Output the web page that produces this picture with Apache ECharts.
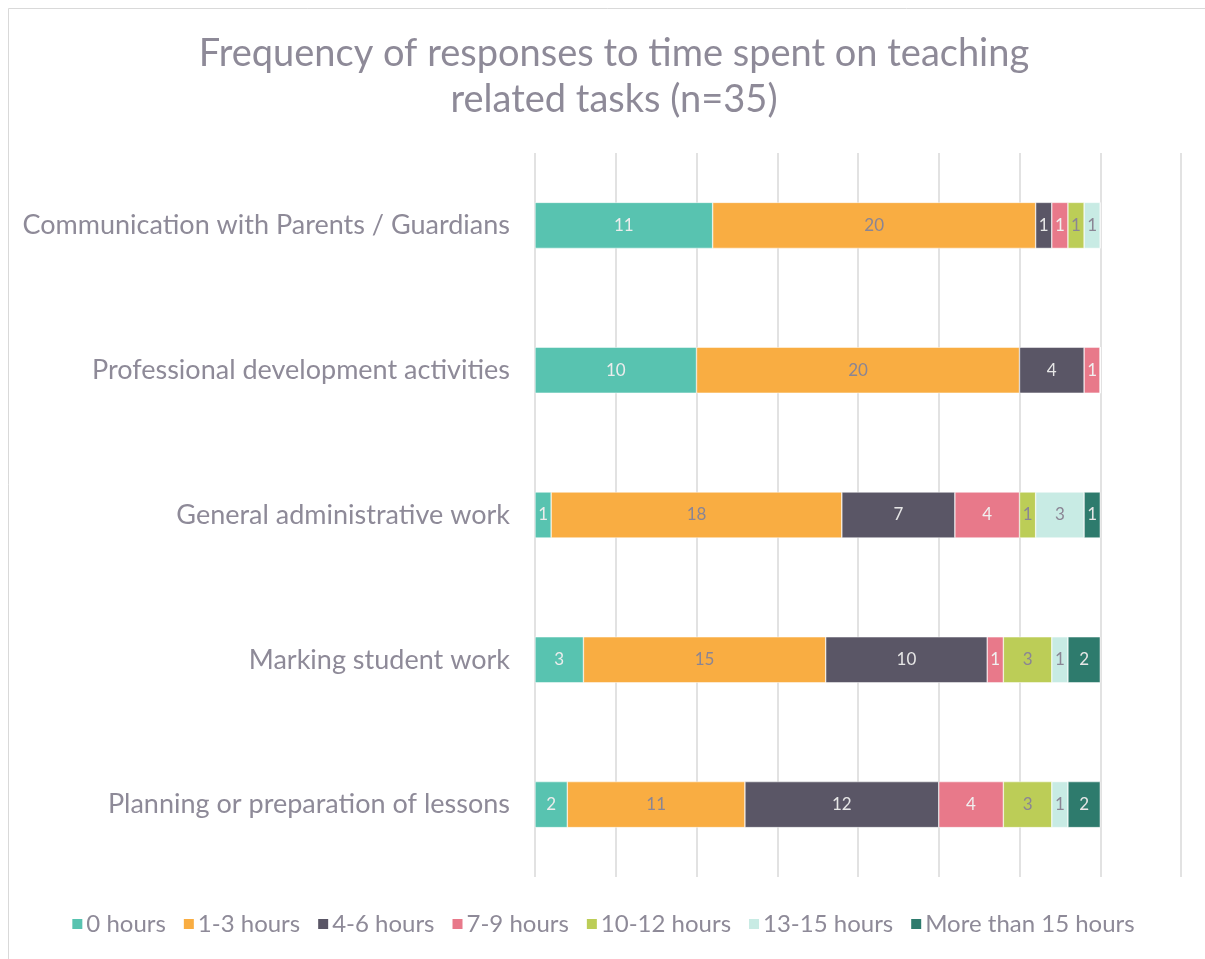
<!DOCTYPE html>
<html>
<head>
<meta charset="utf-8">
<script src="https://cdn.jsdelivr.net/npm/echarts@6/dist/echarts.min.js"></script>
<style>
  html, body { margin: 0; padding: 0; background: #fff; }
  #chart { width: 1205px; height: 959px; }
</style>
</head>
<body>
<div id="chart"></div>
<script>
var categories = [
  "Communication with Parents / Guardians",
  "Professional development activities",
  "General administrative work",
  "Marking student work",
  "Planning or preparation of lessons"
];
var seriesNames = ["0 hours", "1-3 hours", "4-6 hours", "7-9 hours", "10-12 hours", "13-15 hours", "More than 15 hours"];
var hours0 = [11, 10, 1, 3, 2];
var hours1to3 = [20, 20, 18, 15, 11];
var hours4to6 = [1, 4, 7, 10, 12];
var hours7to9 = [1, 1, 4, 1, 4];
var hours10to12 = [1, 0, 1, 3, 3];
var hours13to15 = [1, 0, 3, 1, 1];
var hoursOver15 = [0, 0, 1, 2, 2];

var allValues = [hours0, hours1to3, hours4to6, hours7to9, hours10to12, hours13to15, hoursOver15];
var colors = ["#58c3b0", "#f9ad42", "#5a5666", "#e8798a", "#bccd57", "#c8ebe4", "#2e7b6d"];
var labelColors = ["#ececec", "#8a8594", "#e6e6e6", "#f0f0f0", "#8a8594", "#8a8594", "#e6e6e6"];
var fontFamily = "Lato";
var textColor = "#8e8a98";

var chart = echarts.init(document.getElementById("chart"));

var series = [];
for (var i = 0; i < seriesNames.length; i++) {
  series.push({
    name: seriesNames[i],
    type: "bar",
    stack: "total",
    barWidth: 46,
    data: allValues[i],
    itemStyle: {
      color: colors[i],
      borderColor: "#ffffff",
      borderWidth: 0.5
    },
    label: {
      show: true,
      position: "inside",
      color: labelColors[i],
      fontFamily: fontFamily,
      fontSize: 17,
      formatter: function (p) {
        return p.value ? String(p.value) : "";
      }
    },
    emphasis: { disabled: true }
  });
}

var option = {
  backgroundColor: "#ffffff",
  animation: false,
  color: colors,
  graphic: [{
    type: "rect",
    shape: { x: 8.5, y: 8.5, width: 1300, height: 1300 },
    style: { fill: "none", stroke: "#d9d9d9", lineWidth: 1 },
    silent: true
  }],
  title: {
    text: "Frequency of responses to time spent on teaching\nrelated tasks (n=35)",
    left: 609,
    textAlign: "center",
    top: 26,
    textStyle: {
      fontFamily: fontFamily,
      fontWeight: "normal",
      fontSize: 38,
      lineHeight: 46,
      color: textColor
    }
  },
  legend: {
    bottom: 18,
    left: "center",
    itemWidth: 12,
    itemHeight: 12,
    itemGap: 16,
    icon: "rect",
    textStyle: {
      fontFamily: fontFamily,
      fontSize: 24,
      color: textColor,
      padding: [0, 0, 0, -2]
    },
    data: seriesNames
  },
  grid: {
    left: 535,
    right: 24,
    top: 153,
    bottom: 82,
    containLabel: false
  },
  xAxis: {
    type: "value",
    min: 0,
    max: 40,
    interval: 5,
    axisLabel: { show: false },
    axisLine: { show: false },
    axisTick: { show: false },
    splitLine: { lineStyle: { color: "#d9d9d9", width: 1.5 } }
  },
  yAxis: {
    type: "category",
    inverse: true,
    data: categories,
    axisLine: { show: false },
    axisTick: { show: false },
    axisLabel: {
      margin: 25,
      fontFamily: fontFamily,
      fontSize: 27,
      color: textColor
    }
  },
  series: series
};

chart.setOption(option);
</script>
</body>
</html>
